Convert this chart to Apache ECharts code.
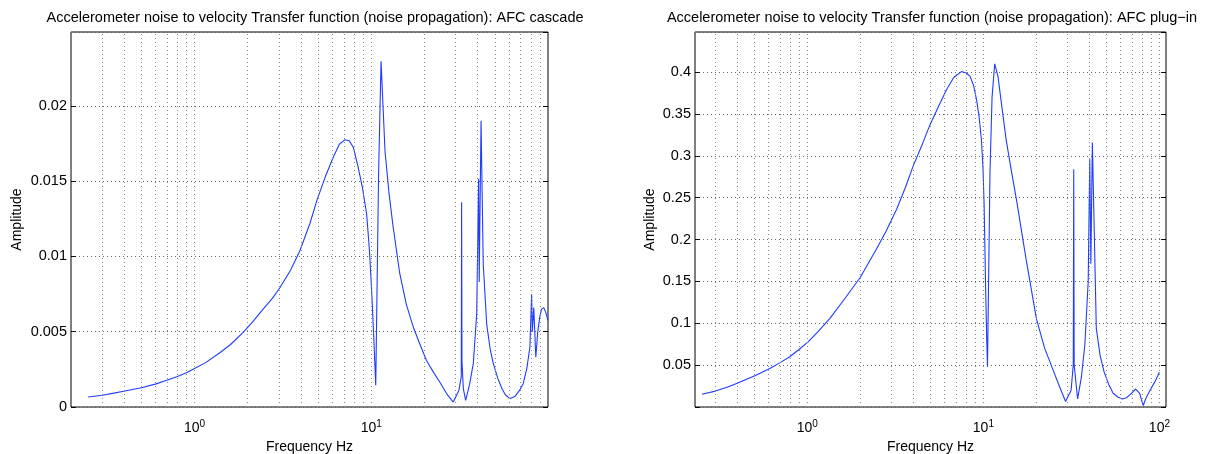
<!DOCTYPE html>
<html>
<head>
<meta charset="utf-8">
<script src="https://cdn.jsdelivr.net/npm/echarts@6/dist/echarts.min.js"></script>
<style>
  html, body { margin: 0; padding: 0; background: #fff; }
  #chart { width: 1209px; height: 454px; }
</style>
</head>
<body>
<div id="chart"></div>
<script>
// AFC cascade (left panel)
const leftFreq = [0.25, 0.3, 0.35, 0.404, 0.5, 0.6, 0.696, 0.8, 0.9, 1.0, 1.15, 1.39, 1.6, 1.89, 2.15, 2.45,
  2.75, 3.04, 3.5, 3.95, 4.5, 4.92, 5.5, 6.1, 6.6, 7.11, 7.5, 7.92, 8.44, 8.9, 9.42, 9.75, 10.05, 10.35, 10.6,
  10.8, 11.0, 11.36, 11.96, 12.6, 13.3, 14.5, 15.8, 17.3, 18.8, 20.5, 22.5, 24.4, 27, 29.1, 31.3, 32.3, 32.45,
  32.6, 33.2, 34.2, 36, 37.8, 39.5, 40.5, 40.8, 41.8, 43.0, 45.0, 47, 49.0, 52, 55, 57.5, 60.9, 65, 69, 72.4,
  76, 79.0, 80.8, 81.5, 83.1, 85.3, 87.5, 89.9, 92, 94.6, 97, 100];
const leftAmp = [0.00066, 0.00078, 0.00092, 0.00106, 0.00128, 0.00152, 0.00177, 0.00202, 0.00228, 0.00255,
  0.00293, 0.0036, 0.00415, 0.00497, 0.0057, 0.00652, 0.0072, 0.00792, 0.0091, 0.01039, 0.0122, 0.0137,
  0.0153, 0.0166, 0.01745, 0.01775, 0.01768, 0.01724, 0.0159, 0.0146, 0.0128, 0.0105, 0.00774, 0.00442,
  0.00144, 0.0085, 0.01548, 0.02295, 0.017, 0.0142, 0.01194, 0.00885, 0.0068, 0.0053, 0.0042, 0.0031, 0.0023,
  0.00166, 0.0008, 0.00033, 0.0011, 0.002, 0.0136, 0.003, 0.0012, 0.00044, 0.0015, 0.0029, 0.0062, 0.01515,
  0.0083, 0.019, 0.0095, 0.0055, 0.0039, 0.0029, 0.0019, 0.0012, 0.0008, 0.00056, 0.0007, 0.0011, 0.00155,
  0.0026, 0.004, 0.0075, 0.005, 0.0066, 0.0033, 0.005, 0.006, 0.0065, 0.0066, 0.0063, 0.00575];

// AFC plug-in (right panel)
const rightFreq = [0.252, 0.3, 0.35, 0.396, 0.5, 0.612, 0.7, 0.795, 0.9, 1.01, 1.15, 1.34, 1.63, 2.0, 2.47,
  2.8, 3.21, 3.6, 3.99, 4.5, 4.97, 5.5, 6.17, 6.8, 7.5, 8.0, 8.4, 8.8, 9.15, 9.45, 9.75, 9.95, 10.1, 10.3,
  10.45, 10.55, 10.75, 10.9, 11.2, 11.6, 12.1, 12.8, 13.5, 14.4, 15.4, 17.5, 20.0, 22.3, 24.9, 27, 29.3, 31.5,
  32.4, 32.6, 32.8, 34.3, 36, 37.7, 39.4, 40.2, 40.8, 41.6, 43.8, 46, 48.5, 51.5, 54.6, 58, 61.5, 65, 68, 73.3,
  77.2, 79, 80.9, 83.8, 87.7, 94.3, 100];
const rightAmp = [0.0152, 0.019, 0.0235, 0.0282, 0.037, 0.0461, 0.053, 0.06, 0.069, 0.0778, 0.09, 0.1055,
  0.1293, 0.155, 0.1887, 0.21, 0.236, 0.262, 0.2878, 0.314, 0.337, 0.357, 0.379, 0.394, 0.4007, 0.399, 0.395,
  0.384, 0.367, 0.347, 0.319, 0.285, 0.24, 0.141, 0.08, 0.048, 0.18, 0.28, 0.37, 0.41, 0.395, 0.355, 0.318,
  0.283, 0.248, 0.176, 0.1055, 0.07, 0.044, 0.025, 0.0065, 0.02, 0.05, 0.284, 0.05, 0.0096, 0.035, 0.074,
  0.15, 0.296, 0.171, 0.316, 0.094, 0.062, 0.042, 0.027, 0.0164, 0.012, 0.0096, 0.011, 0.0144, 0.0215,
  0.0164, 0.009, 0.0018, 0.0105, 0.0184, 0.0303, 0.0414];

const titles = [
  'Accelerometer noise to velocity Transfer function (noise propagation): AFC cascade',
  'Accelerometer noise to velocity Transfer function (noise propagation): AFC plug\u2212in'
];

// dotted vertical grid at 1..9 x each decade (MATLAB style minor grid)
const gridFreqs = [0.2, 0.3, 0.4, 0.5, 0.6, 0.7, 0.8, 0.9, 1, 2, 3, 4, 5, 6, 7, 8, 9, 10,
  20, 30, 40, 50, 60, 70, 80, 90, 100];

const FONT = 'Liberation Sans';
const LINE_BLUE = '#1f3cff';
const DOT = { color: '#666', type: [1, 3], width: 1 };
const DOT_MINOR = { color: '#8a8a8a', type: [1, 3], width: 1 };

const chart = echarts.init(document.getElementById('chart'), null, { renderer: 'canvas' });

function decadeLabel(maxPow) {
  return function (v) {
    const p = Math.log10(v);
    const r = Math.round(p);
    if (Math.abs(p - r) > 1e-6 || r > maxPow) return '';
    return '10{sup|' + r + '}';
  };
}

function xAxisFor(idx, min, max, maxPow) {
  return {
    type: 'log',
    gridIndex: idx,
    min: min,
    max: max,
    logBase: 10,
    splitNumber: 3,
    name: 'Frequency Hz',
    nameLocation: 'middle',
    nameGap: 23,
    nameTextStyle: { fontFamily: FONT, fontSize: 14, color: '#000' },
    axisLine: { show: false },
    axisTick: { show: false },
    splitLine: { show: false },
    axisLabel: {
      formatter: decadeLabel(maxPow),
      fontFamily: FONT,
      fontSize: 14,
      color: '#000',
      margin: 12,
      showMinLabel: true,
      showMaxLabel: true,
      rich: {
        sup: { fontSize: 10, fontFamily: FONT, color: '#000', padding: [0, 0, 9, 0] }
      }
    }
  };
}

function yAxisFor(idx, max, hideZero, nameGap) {
  return {
    type: 'value',
    gridIndex: idx,
    min: 0,
    max: max,
    interval: idx === 0 ? 0.005 : 0.05,
    name: 'Amplitude',
    nameLocation: 'middle',
    nameGap: nameGap,
    nameRotate: 90,
    nameTextStyle: { fontFamily: FONT, fontSize: 14, color: '#000' },
    axisLine: { show: false },
    axisTick: { show: true, inside: true, length: 5, lineStyle: { color: '#000' } },
    splitLine: { show: true, lineStyle: DOT },
    axisLabel: {
      fontFamily: FONT,
      fontSize: 14.5,
      color: '#000',
      margin: 4,
      showMaxLabel: false,
      formatter: function (v) {
        if (v === 0 && hideZero) return '';
        return String(+v.toFixed(4));
      }
    }
  };
}

// right-hand tick marks (box on)
function yRightFor(idx, max) {
  return {
    type: 'value',
    gridIndex: idx,
    position: 'right',
    min: 0,
    max: max,
    interval: idx === 0 ? 0.005 : 0.05,
    axisLine: { show: false },
    axisTick: { show: true, inside: true, length: 5, lineStyle: { color: '#000' } },
    splitLine: { show: false },
    axisLabel: { show: false }
  };
}

function seriesFor(idx, freq, amp, min, max) {
  return {
    type: 'line',
    xAxisIndex: idx,
    yAxisIndex: idx * 2,
    data: freq.map((f, i) => [f, amp[i]]),
    showSymbol: false,
    symbol: 'none',
    lineStyle: { color: LINE_BLUE, width: 1.1 },
    itemStyle: { color: LINE_BLUE },
    z: 3,
    markLine: {
      silent: true,
      symbol: ['none', 'none'],
      label: { show: false },
      lineStyle: DOT_MINOR,
      animation: false,
      data: gridFreqs.filter((g) => g > min && g < max).map((g) => ({ xAxis: g }))
    }
  };
}

const option = {
  backgroundColor: '#fff',
  animation: false,
  title: [
    { text: titles[0], left: 310, top: 5, textAlign: 'center',
      textStyle: { fontFamily: FONT, fontSize: 14.5, fontWeight: 'normal', color: '#000' } },
    { text: titles[1], left: 927, top: 5, textAlign: 'center',
      textStyle: { fontFamily: FONT, fontSize: 14.5, fontWeight: 'normal', color: '#000' } }
  ],
  grid: [
    { left: 71, top: 32, width: 477, height: 375, show: true, borderColor: '#000', borderWidth: 1,
      backgroundColor: '#fff', containLabel: false, outerBoundsMode: 'none' },
    { left: 695, top: 32, width: 471, height: 375, show: true, borderColor: '#000', borderWidth: 1,
      backgroundColor: '#fff', containLabel: false, outerBoundsMode: 'none' }
  ],
  xAxis: [
    xAxisFor(0, 0.2, 100, 1),
    xAxisFor(1, 0.23, 109, 2)
  ],
  yAxis: [
    yAxisFor(0, 0.0249, false, 47),
    yRightFor(0, 0.0249),
    yAxisFor(1, 0.448, true, 38),
    yRightFor(1, 0.448)
  ],
  series: [
    seriesFor(0, leftFreq, leftAmp, 0.2, 100),
    seriesFor(1, rightFreq, rightAmp, 0.23, 109)
  ]
};

chart.setOption(option);
</script>
</body>
</html>
